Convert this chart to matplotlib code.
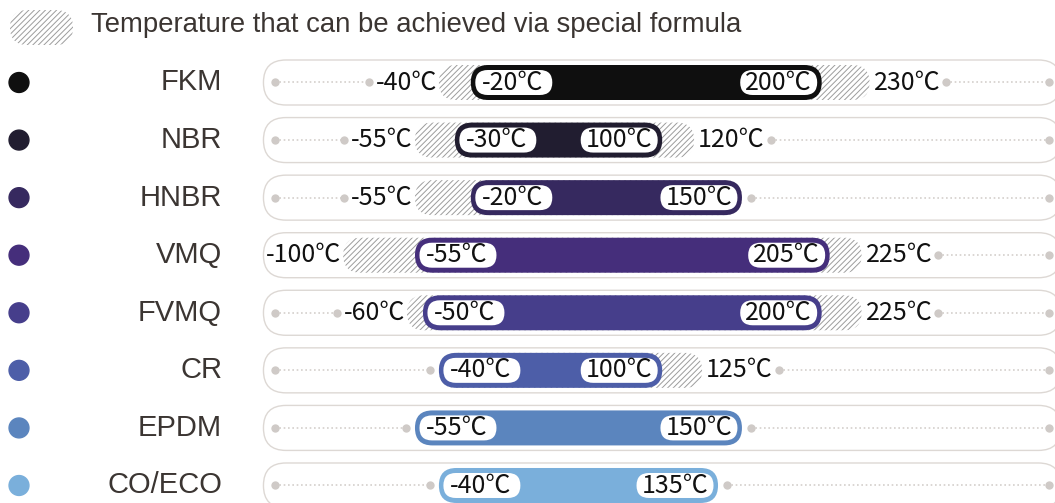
import numpy as np
import matplotlib
matplotlib.use("Agg")
import matplotlib.pyplot as plt
from matplotlib.patches import FancyBboxPatch

# ---- data -------------------------------------------------------------
materials = ["FKM", "NBR", "HNBR", "VMQ", "FVMQ", "CR", "EPDM", "CO/ECO"]
std_low = [-20, -30, -20, -55, -50, -40, -55, -40]
std_high = [200, 100, 150, 205, 200, 100, 150, 135]
special_low = [-40, -55, -55, -100, -60, np.nan, np.nan, np.nan]
special_high = [230, 120, np.nan, 225, 225, 125, np.nan, np.nan]
colors = ["#0f0f0f", "#211d30", "#36295f", "#452e7b", "#463e8b",
          "#4d5ea8", "#5b85be", "#7aafdb"]
legend_text = "Temperature that can be achieved via special formula"

# ---- layout (pixels) ----------------------------------------------------
W, H, DPI = 1055, 503, 100
X0, KX = 502.7, 1.595      # x pixel = X0 + KX * temperature
Y0, KY = 82.5, 57.57       # y pixel = Y0 + KY * row
TRACK = (-150, 350)        # extent of the rounded background track (degC)

plt.rcParams["font.family"] = ["Liberation Sans", "DejaVu Sans"]
plt.rcParams["hatch.linewidth"] = 0.7
TEMP_FONT = ["Liberation Sans Narrow", "Noto Sans CJK SC", "DejaVu Sans"]
TEMP_SIZE = 18
HATCH = "//////"
HATCH_COLOR = "#9c9c9c"

fig = plt.figure(figsize=(W / DPI, H / DPI), dpi=DPI)
ax = fig.add_axes([0, 0, 1, 1])
ax.set_xlim(-X0 / KX, (W - X0) / KX)
ax.set_ylim((H - Y0) / KY, -Y0 / KY)
ax.axis("off")


def px(n):
    return n / KX


def py(n):
    return n / KY


def capsule(x0, x1, yc, h_px, **kw):
    h = py(h_px)
    p = FancyBboxPatch((x0, yc - h / 2), x1 - x0, h,
                       boxstyle=f"round,pad=0,rounding_size={px(h_px / 2) * 0.999}",
                       mutation_aspect=KX / KY, **kw)
    ax.add_patch(p)
    return p


def fmt(v):
    return f"{int(v)}\u2103"


# legend
lx = lambda p: (p - X0) / KX
capsule(lx(10), lx(73), (27.5 - Y0) / KY, 35, fc="none", ec=HATCH_COLOR,
        lw=0, hatch=HATCH)
ax.text(lx(91), (25 - Y0) / KY, legend_text, ha="left", va="center",
        fontsize=19.8, color="#3b3532")

# material dots + names
rows = np.arange(len(materials))
ax.scatter(np.full(len(rows), lx(19)), rows, s=205, c=colors, zorder=3)
for i, m in enumerate(materials):
    ax.text(lx(222), i, m, ha="right", va="center", fontsize=21,
            color="#3b3532")

outer = []
for i in rows:
    lo_s, hi_s = special_low[i], special_high[i]
    capsule(TRACK[0], TRACK[1], i, 45, fc="white", ec="#ddd8d4", lw=1.0)
    lo = std_low[i] if np.isnan(lo_s) else lo_s
    hi = std_high[i] if np.isnan(hi_s) else hi_s
    if lo != std_low[i] or hi != std_high[i]:
        capsule(lo, hi, i, 35, fc="none", ec=HATCH_COLOR, lw=0, hatch=HATCH)
    capsule(std_low[i], std_high[i], i, 35, fc=colors[i], ec="none")
    # white labels inside the bar
    a = std_low[i] + px(4.5)
    capsule(a, a + px(77), i, 25, fc="white", ec="none")
    ax.text(a + px(37), i, fmt(std_low[i]), ha="center", va="center",
            fontsize=TEMP_SIZE, family=TEMP_FONT, color="#111111")
    b = std_high[i] - px(4.5)
    capsule(b - px(77), b, i, 25, fc="white", ec="none")
    ax.text(b - px(38.5), i, fmt(std_high[i]), ha="center", va="center",
            fontsize=TEMP_SIZE, family=TEMP_FONT, color="#111111")
    tl = tr = None
    if not np.isnan(lo_s):
        tl = ax.text(lo_s - px(2), i, fmt(lo_s), ha="right", va="center",
                     fontsize=TEMP_SIZE, family=TEMP_FONT, color="#111111")
    if not np.isnan(hi_s):
        tr = ax.text(hi_s + px(4), i, fmt(hi_s), ha="left", va="center",
                     fontsize=TEMP_SIZE, family=TEMP_FONT, color="#111111")
    outer.append((tl, tr))

# dotted guide lines, placed after measuring the text
fig.canvas.draw()
inv = ax.transData.inverted()
for i in rows:
    tl, tr = outer[i]
    start, stop = TRACK[0] + px(12), TRACK[1] - px(12)
    if tl is not None:
        left_end = inv.transform(tl.get_window_extent().p0)[0] - px(7)
    else:
        left_end = std_low[i] - px(9)
    if tr is not None:
        right_end = inv.transform(tr.get_window_extent().p1)[0] + px(6)
    else:
        right_end = std_high[i] + px(9)
    for a, b in [(start, left_end), (right_end, stop)]:
        if b - a < px(20):
            continue
        ax.plot([a, b], [i, i], ls=(0, (1, 1.6)), lw=1.2, color="#d4cfcc")
        ax.plot([a, b], [i, i], "o", ms=6, mec="none", color="#cfcac7")

fig.savefig("out.png", dpi=DPI)
